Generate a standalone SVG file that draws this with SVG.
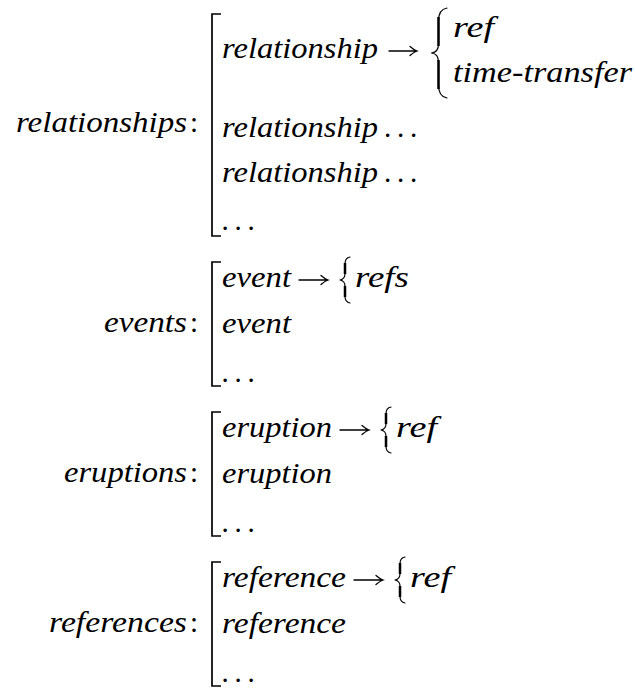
<svg xmlns="http://www.w3.org/2000/svg" width="635" height="690" viewBox="0 0 635 690" font-family="'Liberation Serif', 'DejaVu Serif', 'Noto Serif', serif">
<style>
  text { font-family: "Liberation Serif", "DejaVu Serif", "Noto Serif", serif; font-size: 29px; fill: #000; }
  .it { font-style: italic; }
  .dots { font-style: normal; letter-spacing: 5.75px; }
  .up { font-style: normal; }
  .bk { fill: none; stroke: #000; stroke-width: 1.7; }
  .br { fill: none; stroke: #000; stroke-width: 1.2; stroke-linejoin: round; stroke-linecap: round; }
  .sp { fill: none; stroke: #000; stroke-width: 2.5; }
  .ar { fill: none; stroke: #000; stroke-width: 1.3; stroke-linecap: round; }
</style>
<rect width="635" height="690" fill="#fff"/>

<g id="relationships">
  <text class="it" x="16" y="132" textLength="171" lengthAdjust="spacingAndGlyphs">relationships</text>
  <text class="up" x="190" y="132">:</text>
  <path class="bk" d="M221,14 H212 V236 H221"/>
  <text class="it" x="222" y="58" textLength="156" lengthAdjust="spacingAndGlyphs">relationship</text>
  <path class="ar" d="M389,51 H417 M410,46.5 Q414,50 417,51 Q414,52 410,55.5"/>
  <path class="br" d="M447,8 C441,9 438.5,13 438.5,21 L438.5,44 C438.5,49 436,52.5 431.5,53 C436,53.5 438.5,57 438.5,62 L438.5,85 C438.5,93 441,97 447,98"/>
  <path class="sp" d="M438.5,17 V46 M438.5,60 V89"/>
  <text class="it" x="453" y="37" textLength="41" lengthAdjust="spacingAndGlyphs">ref</text>
  <text class="it" x="453" y="82" textLength="179" lengthAdjust="spacingAndGlyphs">time-transfer</text>
  <text class="it" x="222" y="137" textLength="156" lengthAdjust="spacingAndGlyphs">relationship</text>
  <text class="dots" x="384" y="137">...</text>
  <text class="it" x="222" y="182" textLength="156" lengthAdjust="spacingAndGlyphs">relationship</text>
  <text class="dots" x="384" y="182">...</text>
  <text class="dots" x="221.4" y="229.5">...</text>
</g>

<g id="events">
  <text class="it" x="104" y="332" textLength="83" lengthAdjust="spacingAndGlyphs">events</text>
  <text class="up" x="190" y="332">:</text>
  <path class="bk" d="M221,262 H212 V386 H221"/>
  <text class="it" x="222" y="287" textLength="69" lengthAdjust="spacingAndGlyphs">event</text>
  <path class="ar" d="M299,280 H328 M321,275.5 Q325,279 328,280 Q325,281 321,284.5"/>
  <path class="br" d="M350,257 C346.5,257.5 345,260 345,264 L345,273.5 C345,277 343,279.5 340,280 C343,280.5 345,283 345,286.5 L345,296 C345,300 346.5,302.5 350,303"/>
  <path class="sp" d="M345,263 V274 M345,286 V297"/>
  <text class="it" x="355" y="287" textLength="54" lengthAdjust="spacingAndGlyphs">refs</text>
  <text class="it" x="222" y="333" textLength="69" lengthAdjust="spacingAndGlyphs">event</text>
  <text class="dots" x="221.4" y="381.5">...</text>
</g>

<g id="eruptions">
  <text class="it" x="64" y="482" textLength="123" lengthAdjust="spacingAndGlyphs">eruptions</text>
  <text class="up" x="190" y="482">:</text>
  <path class="bk" d="M221,412 H212 V536 H221"/>
  <text class="it" x="222" y="437" textLength="110" lengthAdjust="spacingAndGlyphs">eruption</text>
  <path class="ar" d="M340,430 H369 M362,425.5 Q366,429 369,430 Q366,431 362,434.5"/>
  <path class="br" d="M391,407 C387.5,407.5 386,410 386,414 L386,423.5 C386,427 384,429.5 381,430 C384,430.5 386,433 386,436.5 L386,446 C386,450 387.5,452.5 391,453"/>
  <path class="sp" d="M386,413 V424 M386,436 V447"/>
  <text class="it" x="396" y="437" textLength="41" lengthAdjust="spacingAndGlyphs">ref</text>
  <text class="it" x="222" y="483" textLength="110" lengthAdjust="spacingAndGlyphs">eruption</text>
  <text class="dots" x="221.4" y="531.5">...</text>
</g>

<g id="references">
  <text class="it" x="49" y="632" textLength="138" lengthAdjust="spacingAndGlyphs">references</text>
  <text class="up" x="190" y="632">:</text>
  <path class="bk" d="M221,562 H212 V686 H221"/>
  <text class="it" x="222" y="587" textLength="124" lengthAdjust="spacingAndGlyphs">reference</text>
  <path class="ar" d="M354,580 H383 M376,575.5 Q380,579 383,580 Q380,581 376,584.5"/>
  <path class="br" d="M405,557 C401.5,557.5 400,560 400,564 L400,573.5 C400,577 398,579.5 395,580 C398,580.5 400,583 400,586.5 L400,596 C400,600 401.5,602.5 405,603"/>
  <path class="sp" d="M400,563 V574 M400,586 V597"/>
  <text class="it" x="410" y="587" textLength="41" lengthAdjust="spacingAndGlyphs">ref</text>
  <text class="it" x="222" y="633" textLength="124" lengthAdjust="spacingAndGlyphs">reference</text>
  <text class="dots" x="221.4" y="681.5">...</text>
</g>
</svg>
